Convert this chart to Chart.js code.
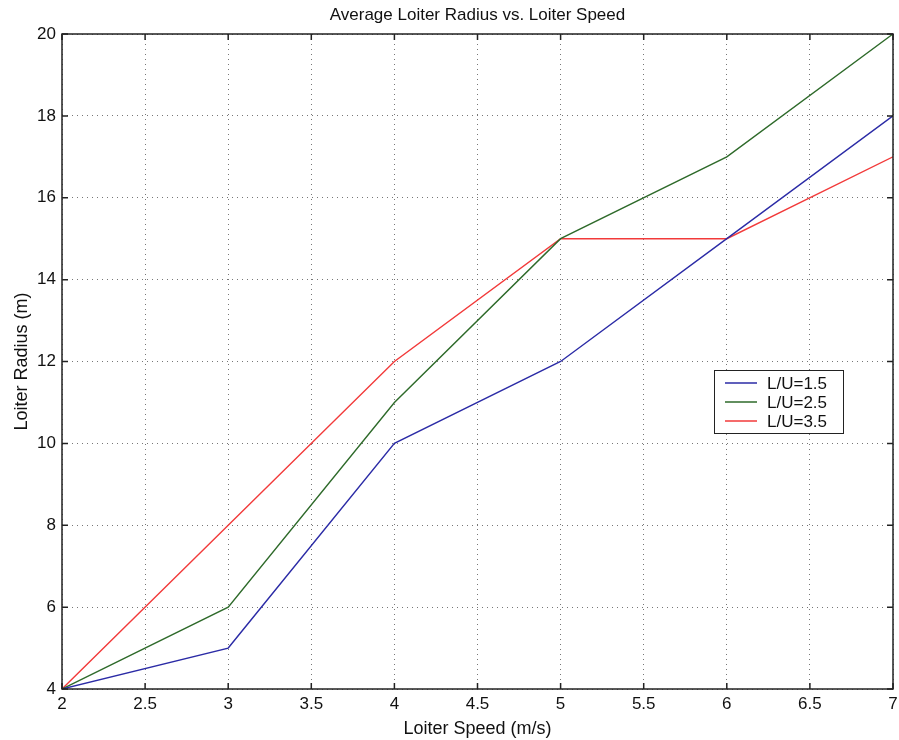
<!DOCTYPE html>
<html>
<head>
<meta charset="utf-8">
<script src="https://cdn.jsdelivr.net/npm/chart.js@4"></script>
<style>
  body { margin: 0; background: #fff; }
</style>
</head>
<body>
<canvas id="myChart" width="899" height="740"></canvas>
<script>
  // data
  var speeds = [2, 3, 4, 5, 6, 7];
  var radius15 = [4, 5, 10, 12, 15, 18];
  var radius25 = [4, 6, 11, 15, 17, 20];
  var radius35 = [4, 8, 12, 15, 15, 17];
  var seriesLabels = ['L/U=1.5', 'L/U=2.5', 'L/U=3.5'];
  var seriesColors = ['#2b2ba6', '#2e6a2a', '#f23a3a'];

  var font = '"Liberation Sans", Arial, sans-serif';

  function toPoints(ys) {
    return speeds.map(function (x, i) { return { x: x, y: ys[i] }; });
  }

  var datasets = [radius15, radius25, radius35].map(function (ys, i) {
    return {
      label: seriesLabels[i],
      data: toPoints(ys),
      borderColor: seriesColors[i],
      backgroundColor: seriesColors[i],
      borderWidth: 1.4,
      pointRadius: 0,
      tension: 0
    };
  });

  // matlab-style frame, inward ticks, title and legend box
  var matlabFrame = {
    id: 'matlabFrame',
    afterDraw: function (chart) {
      var c = chart.ctx, a = chart.chartArea;
      var xs = chart.scales.x, ys = chart.scales.y;
      c.save();
      c.strokeStyle = '#222';
      c.lineWidth = 1.5;
      c.strokeRect(a.left, a.top, a.right - a.left, a.bottom - a.top);
      c.beginPath();
      xs.ticks.forEach(function (t) {
        var px = xs.getPixelForValue(t.value);
        c.moveTo(px, a.bottom); c.lineTo(px, a.bottom - 6);
        c.moveTo(px, a.top); c.lineTo(px, a.top + 6);
      });
      ys.ticks.forEach(function (t) {
        var py = ys.getPixelForValue(t.value);
        c.moveTo(a.left, py); c.lineTo(a.left + 6, py);
        c.moveTo(a.right, py); c.lineTo(a.right - 6, py);
      });
      c.stroke();

      // title
      c.fillStyle = '#111';
      c.font = '17px ' + font;
      c.textAlign = 'center';
      c.textBaseline = 'middle';
      c.fillText('Average Loiter Radius vs. Loiter Speed', (a.left + a.right) / 2, 15);

      // legend
      var lx = 714, ly = 370, lw = 129, lh = 63;
      c.fillStyle = '#fff';
      c.fillRect(lx, ly, lw, lh);
      c.strokeStyle = '#222';
      c.lineWidth = 1;
      c.strokeRect(lx + 0.5, ly + 0.5, lw, lh);
      c.font = '17px ' + font;
      c.textAlign = 'left';
      chart.data.datasets.forEach(function (ds, i) {
        var y = ly + 13 + i * 19;
        c.strokeStyle = ds.borderColor;
        c.lineWidth = 1.5;
        c.beginPath();
        c.moveTo(lx + 11, y); c.lineTo(lx + 43, y);
        c.stroke();
        c.fillStyle = '#111';
        c.fillText(ds.label, lx + 53, y + 1);
      });
      c.restore();
    }
  };

  var ctx = document.getElementById('myChart').getContext('2d');

  var chart = new Chart(ctx, {
    type: 'line',
    data: { datasets: datasets },
    options: {
      responsive: false,
      animation: false,
      layout: { padding: { top: 34, right: 6, left: 0, bottom: 0 } },
      plugins: {
        legend: { display: false },
        title: { display: false },
        tooltip: { enabled: false }
      },
      scales: {
        x: {
          type: 'linear',
          min: 2,
          max: 7,
          ticks: {
            stepSize: 0.5, color: '#111', padding: 5, maxRotation: 0,
            font: { family: font, size: 17 },
            callback: function (v) { return String(v); }
          },
          grid: { color: '#777', drawTicks: false, lineWidth: 1 },
          border: { display: false, dash: [1, 4] },
          title: { display: true, text: 'Loiter Speed (m/s)', color: '#111', font: { family: font, size: 18 }, padding: { top: 7, bottom: 0 } },
          afterFit: function (s) { s.height = 51; s.paddingRight = 0; s.paddingLeft = 0; }
        },
        y: {
          min: 4,
          max: 20,
          ticks: {
            stepSize: 2, color: '#111', padding: 6,
            font: { family: font, size: 17 },
            callback: function (v) { return String(v); }
          },
          grid: { color: '#777', drawTicks: false, lineWidth: 1 },
          border: { display: false, dash: [1, 4] },
          title: { display: true, text: 'Loiter Radius (m)', color: '#111', font: { family: font, size: 18 }, padding: { top: 11, bottom: 0 } },
          afterFit: function (s) { s.width = 62; s.paddingTop = 0; s.paddingBottom = 0; }
        }
      }
    },
    plugins: [matlabFrame]
  });
</script>
</body>
</html>
